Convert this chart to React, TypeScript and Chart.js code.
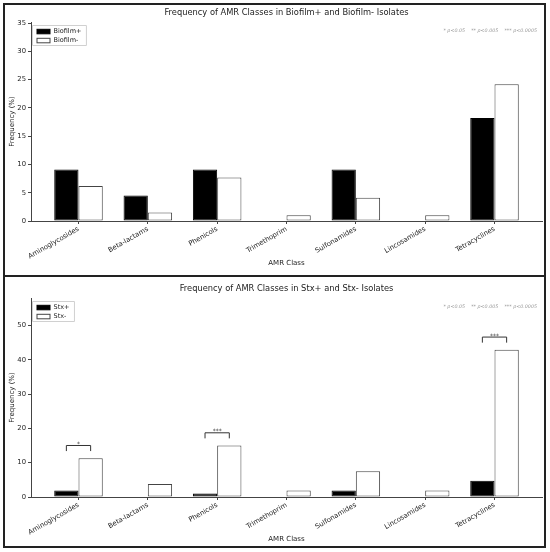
import { useEffect, useRef } from 'react';
import { Chart, registerables } from 'chart.js';

Chart.register(...registerables);

const FONT = '"DejaVu Sans", sans-serif';

const categories = ['Aminoglycosides', 'Beta-lactams', 'Phenicols', 'Trimethoprim', 'Sulfonamides', 'Lincosamides', 'Tetracyclines'];

const biofilmNames = ['Biofilm+', 'Biofilm-'];
const biofilmPos = [9.1, 4.5, 9.1, 0, 9.1, 0, 18.2];
const biofilmNeg = [6.2, 1.5, 7.7, 1.0, 4.1, 1.0, 24.2];
const biofilmSig = ['', '', '', '', '', '', ''];
const biofilmTicks = [0, 5, 10, 15, 20, 25, 30, 35];

const stxNames = ['Stx+', 'Stx-'];
const stxPos = [1.9, 0, 1.0, 0, 1.9, 0, 4.7];
const stxNeg = [11.3, 3.8, 15.0, 1.9, 7.5, 1.9, 42.9];
const stxSig = ['*', '', '***', '', '', '', '***'];
const stxTicks = [0, 10, 20, 30, 40, 50];

type PanelProps = {
  title: string;
  names: string[];
  pos: number[];
  neg: number[];
  sig: string[];
  yTicks: number[];
  yMax: number;
};

function Panel({ title, names, pos, neg, sig, yTicks, yMax }: PanelProps) {
  const ref = useRef<HTMLCanvasElement | null>(null);

  useEffect(() => {
    if (!ref.current) return;

    const decor = {
      id: 'decor',
      afterDraw(chart: any) {
        const { ctx, chartArea: a, scales } = chart;
        const x = scales.x;
        const y = scales.y;
        const cx = (a.left + a.right) / 2;
        ctx.save();
        ctx.fillStyle = '#222';
        ctx.textAlign = 'center';
        ctx.textBaseline = 'middle';
        ctx.font = `8.3px ${FONT}`;
        ctx.fillText(title, cx, 12.5);
        ctx.font = `7px ${FONT}`;
        ctx.fillText('AMR Class', cx, 263);
        ctx.save();
        ctx.translate(12, (a.top + a.bottom) / 2);
        ctx.rotate(-Math.PI / 2);
        ctx.fillText('Frequency (%)', 0, 0);
        ctx.restore();

        // p-value key
        ctx.font = `italic 4.8px ${FONT}`;
        ctx.fillStyle = '#999';
        ctx.textAlign = 'right';
        ctx.fillText('* p<0.05    ** p<0.005    *** p<0.0005', a.right - 5, 31);

        // legend
        ctx.font = `6.5px ${FONT}`;
        const tw = Math.max(...names.map((n) => ctx.measureText(n).width));
        const lx = 32.5;
        const ly = a.top + 3.5;
        ctx.fillStyle = 'rgba(255,255,255,0.8)';
        ctx.strokeStyle = '#d0d0d0';
        ctx.lineWidth = 1;
        ctx.beginPath();
        ctx.rect(lx, ly, 21 + tw + 5, 20);
        ctx.fill();
        ctx.stroke();
        const fills = ['#000', '#fff'];
        const edges = ['#000', '#444'];
        names.forEach((n, i) => {
          const ry = ly + 6 + i * 9;
          ctx.fillStyle = fills[i];
          ctx.fillRect(lx + 4.5, ry - 2.2, 13, 4.5);
          ctx.strokeStyle = edges[i];
          ctx.strokeRect(lx + 4.5, ry - 2.2, 13, 4.5);
          ctx.fillStyle = '#222';
          ctx.textAlign = 'left';
          ctx.textBaseline = 'middle';
          ctx.fillText(n, lx + 21, ry + 0.3);
        });

        // significance brackets
        ctx.strokeStyle = '#333';
        ctx.lineWidth = 1;
        ctx.fillStyle = '#333';
        ctx.textAlign = 'center';
        ctx.textBaseline = 'alphabetic';
        ctx.font = `6px ${FONT}`;
        sig.forEach((s, i) => {
          if (!s) return;
          const top = Math.max(pos[i], neg[i]) + yMax * 0.064;
          const x0 = x.getPixelForValue(i - 0.175);
          const x1 = x.getPixelForValue(i + 0.175);
          const yt = y.getPixelForValue(top);
          const yb = y.getPixelForValue(top - yMax * 0.028);
          ctx.beginPath();
          ctx.moveTo(x0, yb);
          ctx.lineTo(x0, yt);
          ctx.lineTo(x1, yt);
          ctx.lineTo(x1, yb);
          ctx.stroke();
          ctx.fillText(s, (x0 + x1) / 2, yt + 0.5);
        });
        ctx.restore();
      },
    };

    const axisGrid = { drawOnChartArea: false, tickLength: 3, color: '#444', offset: false };
    const axisBorder = { color: '#444', width: 1 };

    const chart = new Chart(ref.current, {
      type: 'bar',
      data: {
        datasets: [
          {
            label: names[0],
            data: pos.map((v, i) => ({ x: i, y: v })),
            backgroundColor: '#000',
            borderColor: '#000',
            borderWidth: 1,
            borderSkipped: false,
            categoryPercentage: 0.7,
            barPercentage: 1,
          },
          {
            label: names[1],
            data: neg.map((v, i) => ({ x: i, y: v })),
            backgroundColor: '#fff',
            borderColor: '#444',
            borderWidth: 1,
            borderSkipped: false,
            categoryPercentage: 0.7,
            barPercentage: 1,
          },
        ],
      },
      options: {
        animation: false,
        responsive: true,
        maintainAspectRatio: false,
        layout: { padding: { left: 0, right: 8, top: 22, bottom: 0 } },
        plugins: { legend: { display: false }, tooltip: { enabled: false } },
        scales: {
          x: {
            type: 'linear',
            min: -0.685,
            max: 6.685,
            offset: false,
            grid: axisGrid,
            border: axisBorder,
            ticks: {
              autoSkip: false,
              minRotation: 30,
              maxRotation: 30,
              padding: 1,
              color: '#222',
              font: { family: FONT, size: 6.8 },
              callback: (v: any) => categories[v] ?? '',
            },
            afterBuildTicks: (s: any) => {
              s.ticks = categories.map((_, i) => ({ value: i }));
            },
            afterFit: (s: any) => {
              s.height = 55;
              s.paddingLeft = 0;
              s.paddingRight = 0;
            },
          },
          y: {
            min: 0,
            max: yMax,
            grid: axisGrid,
            border: axisBorder,
            ticks: { padding: 2, color: '#222', font: { family: FONT, size: 6.8 } },
            afterBuildTicks: (s: any) => {
              s.ticks = yTicks.map((v) => ({ value: v }));
            },
            afterFit: (s: any) => {
              s.width = 31;
            },
          },
        },
      },
      plugins: [decor],
    } as any);
    return () => chart.destroy();
  }, [title, names, pos, neg, sig, yTicks, yMax]);

  return <canvas ref={ref} aria-label={title} />;
}

export default function App() {
  const box = { position: 'absolute' as const, left: 0, width: 550, height: 276 };
  const frame = { position: 'absolute' as const, left: 3, width: 543, border: '2px solid #222', boxSizing: 'border-box' as const, pointerEvents: 'none' as const };
  return (
    <div style={{ position: 'absolute', left: 0, top: 0, width: 550, height: 552, background: '#fff' }}>
      <div style={{ ...box, top: 0 }}>
        <Panel title="Frequency of AMR Classes in Biofilm+ and Biofilm- Isolates" names={biofilmNames} pos={biofilmPos} neg={biofilmNeg} sig={biofilmSig} yTicks={biofilmTicks} yMax={35.2} />
      </div>
      <div style={{ ...box, top: 276 }}>
        <Panel title="Frequency of AMR Classes in Stx+ and Stx- Isolates" names={stxNames} pos={stxPos} neg={stxNeg} sig={stxSig} yTicks={stxTicks} yMax={58} />
      </div>
      <div style={{ ...frame, top: 3, height: 274 }} />
      <div style={{ ...frame, top: 275, height: 273 }} />
    </div>
  );
}
